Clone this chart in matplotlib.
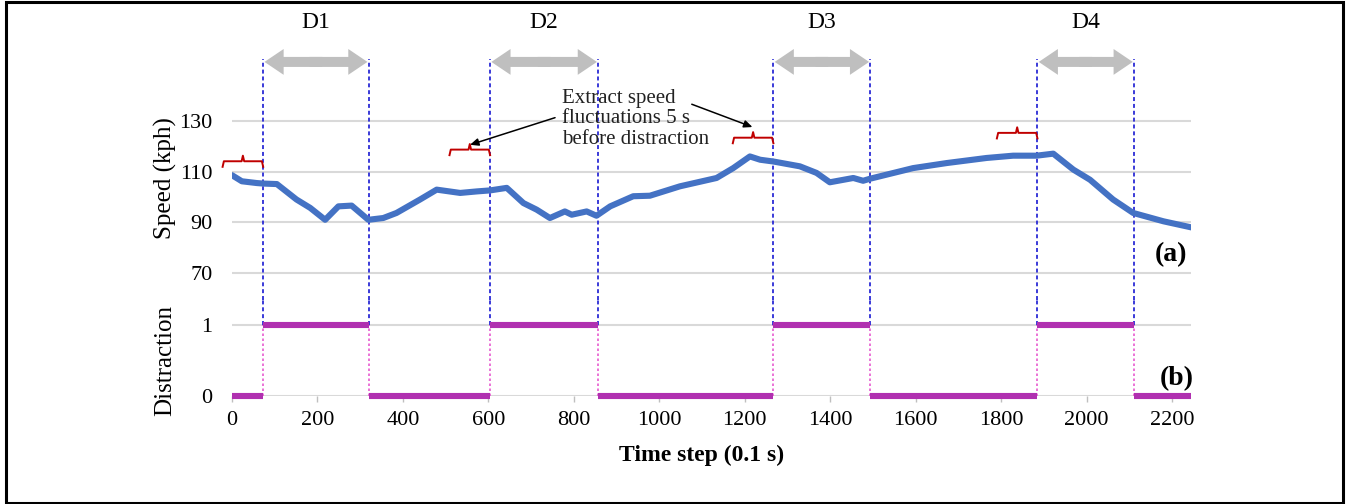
import matplotlib
matplotlib.use("Agg")
import matplotlib.pyplot as plt
from matplotlib.patches import FancyArrowPatch, Rectangle

plt.rcParams['font.family'] = ['Liberation Serif', 'DejaVu Serif']

# ---- data ----
time_steps = [0, 23, 58, 73, 105, 151, 183, 218, 249, 280, 319, 354, 385, 440, 479,
              534, 573, 604, 643, 682, 713, 744, 779, 795, 830, 853, 885, 939, 978,
              1048, 1134, 1173, 1212, 1236, 1267, 1329, 1368, 1399, 1454, 1477, 1493,
              1594, 1673, 1766, 1828, 1883, 1922, 1969, 2008, 2062, 2109, 2180, 2245]
speed_kph = [108.6, 106.2, 105.5, 105.3, 105.1, 99.0, 95.7, 91.0, 96.3, 96.6, 91.0,
             91.7, 93.7, 99.0, 102.9, 101.6, 102.2, 102.6, 103.6, 97.6, 95.0, 91.7,
             94.3, 93.0, 94.3, 92.6, 96.3, 100.3, 100.5, 104.2, 107.5, 111.4, 116.0,
             114.7, 114.0, 112.1, 109.5, 105.8, 107.5, 106.4, 107.2, 111.4, 113.4,
             115.4, 116.3, 116.3, 117.1, 110.8, 106.8, 99.0, 93.7, 90.4, 88.0]

distraction_start = [73, 604, 1267, 1885]
distraction_end = [320, 857, 1494, 2111]
distraction_names = ["D1", "D2", "D3", "D4"]
brace_levels = [114.1, 118.7, 123.4, 125.3]   # kph level of the red braces
t_max = 2245

speed_ticks = [70, 90, 110, 130]
distraction_ticks = [0, 1]
x_ticks = list(range(0, 2201, 200))

# ---- styling ----
BLUE = '#4472C4'
MAG = '#B030B0'
GRID = '#D9D9D9'
DASH_BLUE = '#2B2BD6'
DASH_PINK = '#E85AD0'
ARROW_GRAY = '#BFBFBF'
RED = '#C00000'

fig = plt.figure(figsize=(13.47, 5.04), dpi=100)
W, H = 1347, 504
L = 232 / W
AW = 959.3 / W

ax1 = fig.add_axes([L, (H - 300) / H, AW, 260 / H])
ax2 = fig.add_axes([L, (H - 396) / H, AW, 96 / H])

top_lim = (59.35, 161.95)
bot_lim = (0, 1.352)
for ax in (ax1, ax2):
    ax.set_xlim(0, t_max)
    for s in ax.spines.values():
        s.set_visible(False)
    ax.set_facecolor('none')

ax1.set_ylim(*top_lim)
ax2.set_ylim(*bot_lim)

# gridlines
ax1.hlines(speed_ticks, 0, t_max, color=GRID, lw=1.5, zorder=1)
ax2.hlines(distraction_ticks, 0, t_max, color=GRID, lw=1.5, zorder=1)

# speed line
ax1.plot(time_steps, speed_kph, color=BLUE, lw=4.4, solid_capstyle='round',
         solid_joinstyle='round', zorder=4)

# distraction step (horizontal parts only)
edges = [0] + [v for pair in zip(distraction_start, distraction_end) for v in pair] + [t_max]
for i in range(len(edges) - 1):
    level = i % 2
    ax2.hlines(level, edges[i], edges[i + 1], color=MAG, lw=4.4, zorder=4,
               clip_on=False)

# vertical dashed lines
arrow_y = 153.3
for xs in (distraction_start, distraction_end):
    ax1.vlines(xs, top_lim[0], 154.3, color=DASH_BLUE, lw=1.3,
               linestyles=(0, (2.2, 1.6)), zorder=3, clip_on=False)
    ax2.vlines(xs, 1, bot_lim[1], color=DASH_BLUE, lw=1.3,
               linestyles=(0, (2.2, 1.6)), zorder=3, clip_on=False)
    ax2.vlines(xs, 0, 1, color=DASH_PINK, lw=1.2,
               linestyles=(0, (1.5, 1.5)), zorder=3, clip_on=False)

# gray double arrows with labels
for s, e, name in zip(distraction_start, distraction_end, distraction_names):
    mid = (s + e) / 2
    for start, end in ((mid + 15, s + 3), (mid - 15, e - 3)):
        p = FancyArrowPatch((start, arrow_y), (end, arrow_y),
                            arrowstyle='simple,head_length=1.15,head_width=1.55,tail_width=0.6',
                            mutation_scale=12, color=ARROW_GRAY, lw=0, zorder=5,
                            shrinkA=0, shrinkB=0, clip_on=False)
        ax1.add_patch(p)
    ax1.text(mid, 169, name, ha='center', va='center', fontsize=17, clip_on=False)

# red braces (5 s before each distraction)
span = 95
for s, lvl in zip(distraction_start, brace_levels):
    x0, x1 = s - span, s
    xc = (x0 + x1) / 2
    d = 2.2   # kph drop of the brace ends
    tip = 2.2
    k = 3
    xs = [x0, x0 + k, xc - k, xc, xc + k, x1 - k, x1]
    ys = [lvl - d, lvl, lvl, lvl + tip, lvl, lvl, lvl - d]
    ax1.plot(xs, ys, color=RED, lw=1.4, zorder=5, clip_on=False,
             solid_joinstyle='round')

# annotation text with arrows
ax1.text(772, 130.9, "Extract speed\nfluctuations 5 s\nbefore distraction",
         ha='left', va='center', fontsize=15, linespacing=1.1, color='#222222',
         zorder=6)
ax1.annotate("", xy=(557, 120.6), xytext=(756, 131.3),
             arrowprops=dict(arrowstyle='-|>,head_length=0.5,head_width=0.22',
                             color='black', lw=1.1, shrinkA=0, shrinkB=0))
ax1.annotate("", xy=(1218, 127.6), xytext=(1076, 136.6),
             arrowprops=dict(arrowstyle='-|>,head_length=0.5,head_width=0.22',
                             color='black', lw=1.1, shrinkA=0, shrinkB=0))

# panel labels
ax1.text(2197, 77.3, "(a)", ha='center', va='center', fontsize=20,
         fontweight='bold')
ax2.text(2212, 0.25, "(b)", ha='center', va='center', fontsize=20,
         fontweight='bold')

# ticks
ax1.set_yticks(speed_ticks)
ax1.set_xticks([])
ax1.tick_params(axis='y', length=0, pad=14, labelsize=16)
ax2.set_yticks(distraction_ticks)
ax2.tick_params(axis='y', length=0, pad=14, labelsize=16)
ax2.set_xticks(x_ticks)
ax2.tick_params(axis='x', length=4, width=1, color='#BFBFBF', pad=7, labelsize=16)

# axis labels
fig.text(165 / W, 1 - 178 / H, "Speed (kph)", rotation=90, ha='center',
         va='center', fontsize=18)
fig.text(165 / W, 1 - 360 / H, "Distraction", rotation=90, ha='center',
         va='center', fontsize=18)
fig.text(702 / W, 1 - 455 / H, "Time step (0.1 s)", ha='center', va='center',
         fontsize=17, fontweight='bold')

# outer frame
fig.patches.append(Rectangle((6 / W, 1 / H), 1337 / W, 501 / H,
                             transform=fig.transFigure, fill=False,
                             edgecolor='black', lw=2.2))

fig.savefig("out.png", dpi=100, facecolor='white')
